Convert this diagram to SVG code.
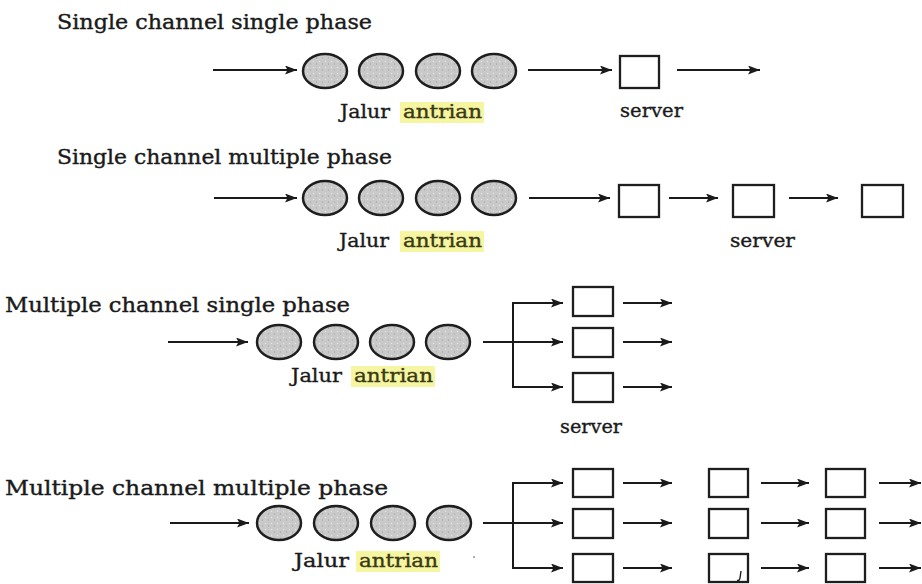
<svg xmlns="http://www.w3.org/2000/svg" width="922" height="584" viewBox="0 0 922 584">
<defs>
<marker id="ah" markerWidth="14" markerHeight="10" refX="12" refY="4.5" orient="auto" markerUnits="userSpaceOnUse">
<path d="M0,0 L12,4.5 L0,9 L2.5,4.5 Z" fill="#1a1a1a"/>
</marker>
<pattern id="stip" width="6" height="6" patternUnits="userSpaceOnUse">
<rect width="6" height="6" fill="#c9c9c9"/>
<circle cx="1.5" cy="1.5" r="0.7" fill="#e6e6e6"/>
<circle cx="4.5" cy="4" r="0.7" fill="#a9a9a9"/>
</pattern>
</defs>
<style>
.title{font-family:"DejaVu Serif","Liberation Serif",serif;font-size:21px;fill:#1a1a1a;stroke:#1a1a1a;stroke-width:0.4}
.lbl{font-family:"DejaVu Serif","Liberation Serif",serif;font-size:19px;fill:#1a1a1a;stroke:#1a1a1a;stroke-width:0.35}
.hl{fill:#f5f5a2}
.hltext{fill:#3a3a12;stroke:#3a3a12}
.q{fill:url(#stip);stroke:#1e1e1e;stroke-width:2.5}
.srv{fill:#ffffff;stroke:#1e1e1e;stroke-width:2.3}
.con path{fill:none;stroke:#1a1a1a;stroke-width:2;marker-end:url(#ah)}
</style>
<rect width="922" height="584" fill="#ffffff"/>

<!-- Titles -->
<g id="title1"><text class="title" x="57" y="29" textLength="315" lengthAdjust="spacingAndGlyphs">Single channel single phase</text></g>
<g id="title2"><text class="title" x="57" y="164" textLength="335" lengthAdjust="spacingAndGlyphs">Single channel multiple phase</text></g>
<g id="title3"><text class="title" x="5" y="312" textLength="345" lengthAdjust="spacingAndGlyphs">Multiple channel single phase</text></g>
<g id="title4"><text class="title" x="5" y="495" textLength="383" lengthAdjust="spacingAndGlyphs">Multiple channel multiple phase</text></g>

<!-- Section 1 -->
<g id="s1-queue">
<ellipse class="q" cx="325" cy="71" rx="22" ry="17"/>
<ellipse class="q" cx="381" cy="71" rx="22" ry="17"/>
<ellipse class="q" cx="438" cy="71" rx="22" ry="17"/>
<ellipse class="q" cx="494" cy="71" rx="22" ry="17"/>
</g>
<g id="s1-label">
<text class="lbl" x="340" y="118" textLength="50" lengthAdjust="spacingAndGlyphs">Jalur</text>
<rect class="hl" x="400" y="102" width="84" height="21"/>
<text class="lbl hltext" x="403" y="118" textLength="79" lengthAdjust="spacingAndGlyphs">antrian</text>
</g>
<g id="s1-server"><rect class="srv" x="620" y="56" width="39" height="32"/></g>
<g id="s1-server-label"><text class="lbl" x="620" y="117" textLength="63" lengthAdjust="spacingAndGlyphs">server</text></g>

<!-- Section 2 -->
<g id="s2-queue">
<ellipse class="q" cx="325" cy="198" rx="22" ry="17"/>
<ellipse class="q" cx="381" cy="198" rx="22" ry="17"/>
<ellipse class="q" cx="438" cy="198" rx="22" ry="17"/>
<ellipse class="q" cx="494" cy="198" rx="22" ry="17"/>
</g>
<g id="s2-label">
<text class="lbl" x="339" y="247" textLength="50" lengthAdjust="spacingAndGlyphs">Jalur</text>
<rect class="hl" x="400" y="231" width="84" height="21"/>
<text class="lbl hltext" x="403" y="247" textLength="79" lengthAdjust="spacingAndGlyphs">antrian</text>
</g>
<g id="s2-server1"><rect class="srv" x="619" y="185" width="40" height="32"/></g>
<g id="s2-server2"><rect class="srv" x="733" y="185" width="41" height="32"/></g>
<g id="s2-server3"><rect class="srv" x="862" y="185" width="41" height="32"/></g>
<g id="s2-server-label"><text class="lbl" x="730" y="247" textLength="65" lengthAdjust="spacingAndGlyphs">server</text></g>

<!-- Section 3 -->
<g id="s3-queue">
<ellipse class="q" cx="279" cy="342" rx="22" ry="17"/>
<ellipse class="q" cx="336" cy="342" rx="22" ry="17"/>
<ellipse class="q" cx="392" cy="342" rx="22" ry="17"/>
<ellipse class="q" cx="448" cy="342" rx="22" ry="17"/>
</g>
<g id="s3-label">
<text class="lbl" x="291" y="382" textLength="51" lengthAdjust="spacingAndGlyphs">Jalur</text>
<rect class="hl" x="351" y="366" width="84" height="21"/>
<text class="lbl hltext" x="354" y="382" textLength="79" lengthAdjust="spacingAndGlyphs">antrian</text>
</g>
<g id="s3-server1"><rect class="srv" x="573" y="287" width="40" height="29"/></g>
<g id="s3-server2"><rect class="srv" x="573" y="328" width="40" height="29"/></g>
<g id="s3-server3"><rect class="srv" x="573" y="373" width="40" height="29"/></g>
<g id="s3-server-label"><text class="lbl" x="560" y="433" textLength="62" lengthAdjust="spacingAndGlyphs">server</text></g>

<!-- Section 4 -->
<g id="s4-queue">
<ellipse class="q" cx="279" cy="523" rx="22" ry="17"/>
<ellipse class="q" cx="336" cy="523" rx="22" ry="17"/>
<ellipse class="q" cx="393" cy="523" rx="22" ry="17"/>
<ellipse class="q" cx="449" cy="523" rx="22" ry="17"/>
</g>
<g id="s4-label">
<text class="lbl" x="294" y="567" textLength="55" lengthAdjust="spacingAndGlyphs">Jalur</text>
<rect class="hl" x="356" y="551" width="84" height="21"/>
<text class="lbl hltext" x="359" y="567" textLength="79" lengthAdjust="spacingAndGlyphs">antrian</text>
</g>
<g id="s4-r1c1"><rect class="srv" x="573" y="469" width="40" height="28"/></g>
<g id="s4-r2c1"><rect class="srv" x="573" y="509" width="40" height="29"/></g>
<g id="s4-r3c1"><rect class="srv" x="573" y="554" width="40" height="28"/></g>
<g id="s4-r1c2"><rect class="srv" x="709" y="469" width="39" height="28"/></g>
<g id="s4-r2c2"><rect class="srv" x="709" y="509" width="39" height="29"/></g>
<g id="s4-r3c2"><rect class="srv" x="709" y="554" width="39" height="28"/>
<path d="M741,571 L740,578 Q739.5,581 737,580.5" fill="none" stroke="#1e1e1e" stroke-width="1.4"/></g>
<g id="s4-r1c3"><rect class="srv" x="826" y="469" width="39" height="28"/></g>
<g id="s4-r2c3"><rect class="srv" x="826" y="509" width="39" height="29"/></g>
<g id="s4-r3c3"><rect class="srv" x="826" y="554" width="39" height="28"/></g>
<circle cx="474" cy="557" r="1.1" fill="#9a9a9a"/>

<!-- Connectors -->
<g id="connectors" class="con">
<path d="M213,70 H297"/>
<path d="M528,70 H612"/>
<path d="M677,70 H760"/>

<path d="M214,198 H297"/>
<path d="M529,198 H610"/>
<path d="M669,198 H718"/>
<path d="M789,198 H838"/>

<path d="M168,342 H248"/>
<path d="M483,342 H563"/>
<path d="M513,342 V303 H563"/>
<path d="M513,342 V387 H563"/>
<path d="M623,303 H672"/>
<path d="M623,342 H672"/>
<path d="M623,387 H672"/>

<path d="M170,523 H249"/>
<path d="M483,523 H563"/>
<path d="M513,523 V483 H563"/>
<path d="M513,523 V568 H563"/>
<path d="M623,483 H672"/>
<path d="M623,523 H672"/>
<path d="M623,568 H672"/>
<path d="M761,483 H809"/>
<path d="M761,523 H809"/>
<path d="M761,568 H809"/>
<path d="M879,483 H921"/>
<path d="M879,523 H921"/>
<path d="M879,568 H921"/>
</g>
</svg>
